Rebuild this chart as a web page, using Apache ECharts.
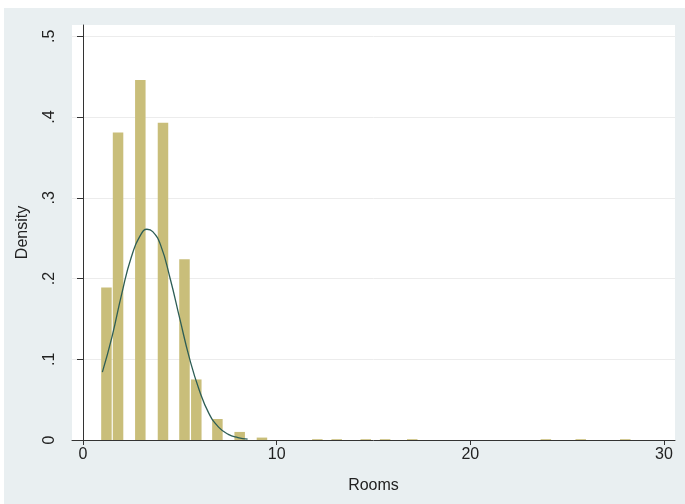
<!DOCTYPE html>
<html>
<head>
<meta charset="utf-8">
<script src="https://cdn.jsdelivr.net/npm/echarts@6/dist/echarts.min.js"></script>
<style>
  html, body { margin: 0; padding: 0; background: #fff; }
  #wrap { position: relative; width: 685px; height: 504px; }
  #bg { position: absolute; left: 4px; top: 8px; right: 0; bottom: 0; background: #e9eff1; }
  #chart { position: absolute; left: 0; top: 0; width: 685px; height: 504px; }
</style>
</head>
<body>
<div id="wrap">
  <div id="bg"></div>
  <div id="chart"></div>
</div>
<script>
// histogram bins (bin centre, density)
const binCenters = [1.21, 1.81, 2.96, 4.13, 5.24, 5.85, 6.94, 8.09, 9.24, 12.1, 13.1, 14.6, 15.6, 17.0, 23.9, 25.7, 28.0]
const binDensity = [0.189, 0.381, 0.446, 0.393, 0.224, 0.075, 0.026, 0.010, 0.003, 0.001, 0.001, 0.001, 0.001, 0.001, 0.001, 0.001, 0.001]

// normal density overlay
const curveX = [1.0, 1.5, 2.0, 2.5, 3.0, 3.3, 3.6, 4.0, 4.5, 5.0, 5.5, 6.0, 6.5, 7.0, 7.5, 8.0, 8.5]
const curveY = [0.084, 0.128, 0.181, 0.227, 0.255, 0.261, 0.258, 0.242, 0.200, 0.150, 0.101, 0.062, 0.033, 0.016, 0.007, 0.003, 0.001]

const xTickValues = [0, 10, 20, 30]
const yTickValues = [0, 0.1, 0.2, 0.3, 0.4, 0.5]
const yTickLabels = ['0', '.1', '.2', '.3', '.4', '.5']

const textColor = '#222'
const font = '"Liberation Sans", Arial, sans-serif'

const chart = echarts.init(document.getElementById('chart'), null, { renderer: 'canvas' })

chart.setOption({
  backgroundColor: 'transparent',
  animation: false,
  grid: {
    left: 72, right: 10, top: 25, bottom: 64,
    show: true, backgroundColor: '#fff', borderWidth: 0,
  },
  xAxis: {
    type: 'value',
    min: -0.568, max: 30.568,
    name: 'Rooms',
    nameLocation: 'middle',
    nameGap: 38,
    nameTextStyle: { color: textColor, fontSize: 16, fontFamily: font },
    axisLine: { show: true, lineStyle: { color: '#333', width: 1 } },
    axisTick: { show: true, customValues: xTickValues, length: 5, lineStyle: { color: '#333' } },
    axisLabel: { customValues: xTickValues, color: textColor, fontSize: 16, fontFamily: font, margin: 7 },
    splitLine: { show: false },
  },
  yAxis: {
    type: 'value',
    min: 0, max: 0.514,
    name: 'Density',
    nameLocation: 'middle',
    nameGap: 41,
    nameTextStyle: { color: textColor, fontSize: 16, fontFamily: font },
    axisLine: { show: true, lineStyle: { color: '#333', width: 1 } },
    axisTick: { show: true, customValues: yTickValues, length: 6, lineStyle: { color: '#333' } },
    axisLabel: {
      customValues: yTickValues,
      rotate: 90,
      color: textColor, fontSize: 16, fontFamily: font, margin: 14,
      formatter: v => {
        const i = yTickValues.findIndex(t => Math.abs(t - v) < 1e-6)
        return i >= 0 ? yTickLabels[i] : ''
      },
    },
    splitLine: { show: true, lineStyle: { color: '#ececec', width: 1 } },
  },
  series: [
    {
      type: 'bar',
      barWidth: 10.5,
      itemStyle: { color: '#c9be7a' },
      data: binCenters.map((x, i) => [x, binDensity[i]]),
    },
    {
      type: 'line',
      smooth: true,
      showSymbol: false,
      lineStyle: { color: '#2d5d55', width: 1.3 },
      data: curveX.map((x, i) => [x, curveY[i]]),
      z: 3,
    },
  ],
})
</script>
</body>
</html>
